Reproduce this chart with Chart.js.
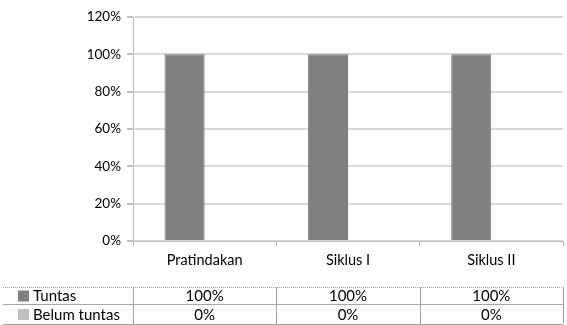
<!DOCTYPE html>
<html>
<head>
<meta charset="utf-8">
<script src="https://cdn.jsdelivr.net/npm/chart.js@4/dist/chart.umd.min.js"></script>
<style>
  html, body { margin: 0; padding: 0; background: #fff; }
  #wrap { width: 567px; height: 325px; position: relative; }
</style>
</head>
<body>
<div id="wrap"><canvas id="chart" width="567" height="325"></canvas></div>
<script>
const categories = ["Pratindakan", "Siklus I", "Siklus II"];
const tuntas = [100, 100, 100];
const belumTuntas = [0, 0, 0];
const seriesNames = ["Tuntas", "Belum tuntas"];
const seriesColors = ["#808080", "#c0c0c0"];
const yTicks = [0, 20, 40, 60, 80, 100, 120];

const FONT = "Lato, 'Open Sans', sans-serif";

// draws the data table under the axis, columns taken from the x scale
const dataTable = {
  id: "dataTable",
  afterDraw: function (chart) {
    var ctx = chart.ctx;
    var x = chart.scales.x;
    var left = 3, right = chart.chartArea.right;
    var rowTops = [287, 304, 324];
    var rows = [tuntas, belumTuntas];
    var step = x.getPixelForValue(1) - x.getPixelForValue(0);
    var edges = [x.getPixelForValue(0) - step / 2];
    categories.forEach(function (c, i) {
      edges.push(x.getPixelForValue(i) + step / 2);
    });

    ctx.save();
    ctx.strokeStyle = "#a6a6a6";
    ctx.lineWidth = 1;

    ctx.setLineDash([1, 1]);
    ctx.beginPath();
    ctx.moveTo(left, rowTops[0] + 0.5);
    ctx.lineTo(right, rowTops[0] + 0.5);
    ctx.stroke();
    ctx.setLineDash([]);

    ctx.beginPath();
    ctx.moveTo(left, rowTops[1] + 0.5);
    ctx.lineTo(right, rowTops[1] + 0.5);
    ctx.moveTo(left, rowTops[2] + 0.5);
    ctx.lineTo(right, rowTops[2] + 0.5);
    edges.forEach(function (e) {
      ctx.moveTo(Math.round(e) + 0.5, rowTops[0]);
      ctx.lineTo(Math.round(e) + 0.5, rowTops[2]);
    });
    ctx.stroke();

    ctx.font = "15px " + FONT;
    ctx.textBaseline = "middle";
    rows.forEach(function (vals, r) {
      var cy = (rowTops[r] + rowTops[r + 1]) / 2 + 1;
      ctx.fillStyle = seriesColors[r];
      ctx.fillRect(18, cy - 6, 11, 11);
      ctx.fillStyle = "#000";
      ctx.textAlign = "left";
      ctx.fillText(seriesNames[r], 33, cy);
      ctx.textAlign = "center";
      vals.forEach(function (v, i) {
        ctx.fillText(v + "%", x.getPixelForValue(i), cy);
      });
    });
    ctx.restore();
  }
};

var ctx = document.getElementById("chart").getContext("2d");
var myChart = new Chart(ctx, {
  type: "bar",
  data: {
    labels: categories,
    datasets: [
      {
        label: seriesNames[0],
        data: tuntas,
        backgroundColor: seriesColors[0],
        borderColor: "#7a7a7a",
        borderWidth: 1,
        categoryPercentage: 0.56,
        barPercentage: 1,
      },
      {
        label: seriesNames[1],
        data: belumTuntas,
        backgroundColor: seriesColors[1],
        borderWidth: 0,
        categoryPercentage: 0.56,
        barPercentage: 1,
      },
    ],
  },
  options: {
    responsive: false,
    animation: false,
    layout: { padding: { top: 17, right: 4, left: 0, bottom: 0 } },
    plugins: {
      legend: { display: false },
      tooltip: { enabled: false },
    },
    scales: {
      x: {
        grid: {
          offset: true,
          drawOnChartArea: false,
          tickLength: 5,
          color: "#bfbfbf",
        },
        border: { color: "#bfbfbf", width: 1 },
        ticks: {
          color: "#000",
          font: { family: FONT, size: 14.5 },
          padding: 6,
        },
        afterFit: function (scale) { scale.height = 84; },
      },
      y: {
        min: 0,
        max: 120,
        afterBuildTicks: function (scale) {
          scale.ticks = yTicks.map(function (v) { return { value: v }; });
        },
        grid: {
          color: "#d9d9d9",
          lineWidth: 2,
          tickLength: 6,
          tickColor: "#bfbfbf",
        },
        border: { color: "#bfbfbf", width: 1 },
        ticks: {
          color: "#000",
          font: { family: FONT, size: 13.5 },
          padding: 6,
          callback: function (v) { return v + "%"; },
        },
        afterFit: function (scale) { scale.width = 133; },
      },
    },
  },
  plugins: [dataTable],
});
</script>
</body>
</html>
